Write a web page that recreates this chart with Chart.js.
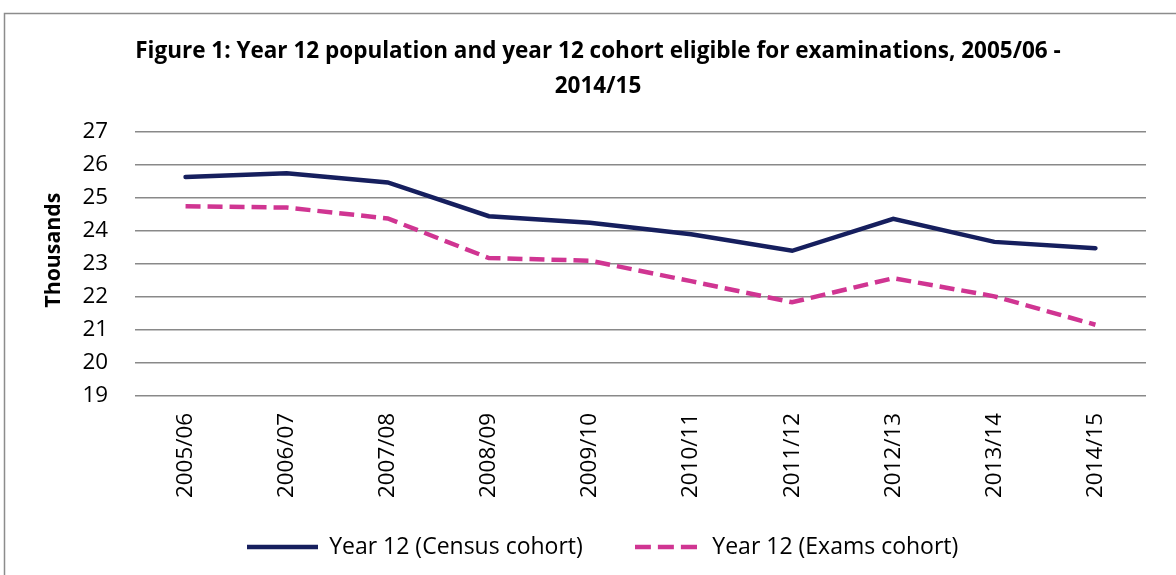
<!DOCTYPE html>
<html>
<head>
<meta charset="utf-8">
<script src="https://cdn.jsdelivr.net/npm/chart.js@4/dist/chart.umd.min.js"></script>
<style>
html,body{margin:0;padding:0;background:#fff;}
#wrap{position:relative;width:1176px;height:575px;}
</style>
</head>
<body>
<div id="wrap"><canvas id="c" width="1176" height="575"></canvas></div>
<script>
const categories = ["2005/06","2006/07","2007/08","2008/09","2009/10","2010/11","2011/12","2012/13","2013/14","2014/15"];
const censusCohort = [25.64, 25.75, 25.47, 24.45, 24.25, 23.9, 23.4, 24.37, 23.67, 23.48];
const examsCohort  = [24.75, 24.71, 24.38, 23.18, 23.1, 22.48, 21.84, 22.57, 22.02, 21.16];
const yTicks = [19,20,21,22,23,24,25,26,27];
const titleLines = ["Figure 1: Year 12 population and year 12 cohort eligible for examinations, 2005/06 -", "2014/15"];

const FONT = "'Open Sans', 'Noto Sans', sans-serif";
const NAVY = '#161f5e';
const PINK = '#d03592';

function legendSample(color, width, dash) {
  const cv = document.createElement('canvas');
  cv.width = width; cv.height = 6;
  const g = cv.getContext('2d');
  g.strokeStyle = color;
  g.lineWidth = 4.5;
  g.setLineDash(dash);
  g.beginPath();
  g.moveTo(0, 3); g.lineTo(width, 3);
  g.stroke();
  return cv;
}
const censusSample = legendSample(NAVY, 71, []);
const examsSample = legendSample(PINK, 62, [16, 7]);

const frameAndTitle = {
  id: 'frameAndTitle',
  beforeDraw(chart) {
    const ctx = chart.ctx;
    ctx.save();
    ctx.fillStyle = '#fff';
    ctx.fillRect(0, 0, chart.width, chart.height);
    ctx.strokeStyle = '#8c8c8c';
    ctx.lineWidth = 1.5;
    ctx.strokeRect(4.5, 13.5, chart.width + 20, chart.height + 20);
    ctx.fillStyle = '#000';
    ctx.font = "bold 22.5px " + FONT;
    ctx.textAlign = 'center';
    ctx.textBaseline = 'alphabetic';
    ctx.fillText(titleLines[0], 598, 58);
    ctx.fillText(titleLines[1], 598, 93);
    ctx.restore();
  }
};

new Chart(document.getElementById('c'), {
  type: 'line',
  data: {
    labels: categories,
    datasets: [
      {
        label: 'Year 12 (Census cohort)',
        data: censusCohort,
        borderColor: NAVY,
        backgroundColor: NAVY,
        borderWidth: 4.5,
        pointRadius: 0,
        tension: 0,
        borderCapStyle: 'round'
      },
      {
        label: 'Year 12 (Exams cohort)',
        data: examsCohort,
        borderColor: PINK,
        backgroundColor: PINK,
        borderWidth: 4.5,
        borderDash: [15, 7],
        pointRadius: 0,
        tension: 0
      }
    ]
  },
  options: {
    responsive: false,
    animation: false,
    layout: { padding: { left: 60, right: 30, top: 132, bottom: 6.5 } },
    plugins: {
      title: { display: false },
      legend: {
        position: 'bottom',
        labels: {
          usePointStyle: true,
          pointStyleWidth: 70,
          color: '#000',
          font: { family: FONT, size: 23 },
          padding: 48,
          generateLabels(chart) {
            const items = Chart.defaults.plugins.legend.labels.generateLabels(chart);
            items[0].pointStyle = censusSample;
            items[1].pointStyle = examsSample;
            return items;
          }
        }
      },
      tooltip: { enabled: false }
    },
    scales: {
      x: {
        offset: true,
        grid: { display: false, drawTicks: false },
        border: { display: false },
        ticks: {
          color: '#000',
          font: { family: FONT, size: 22.4 },
          minRotation: 90,
          maxRotation: 90,
          padding: 17,
          autoSkip: false
        },
        afterFit(scale) {
          scale.height = 91.5;
          scale._computeLabelArea = () => undefined;
        }
      },
      y: {
        min: 19,
        max: 27,
        afterBuildTicks(scale) { scale.ticks = yTicks.map(v => ({ value: v })); },
        grid: { color: '#898989', lineWidth: 1.5, drawTicks: false },
        border: { display: false },
        ticks: {
          color: '#000',
          font: { family: FONT, size: 22.4 },
          padding: 27
        },
        title: {
          display: true,
          text: '     Thousands',
          color: '#000',
          font: { family: FONT, size: 21.3, weight: 'bold' },
          padding: { top: -18.8, bottom: 0 }
        },
        afterFit(scale) { scale.width = 75; }
      }
    }
  },
  plugins: [frameAndTitle]
});
</script>
</body>
</html>
